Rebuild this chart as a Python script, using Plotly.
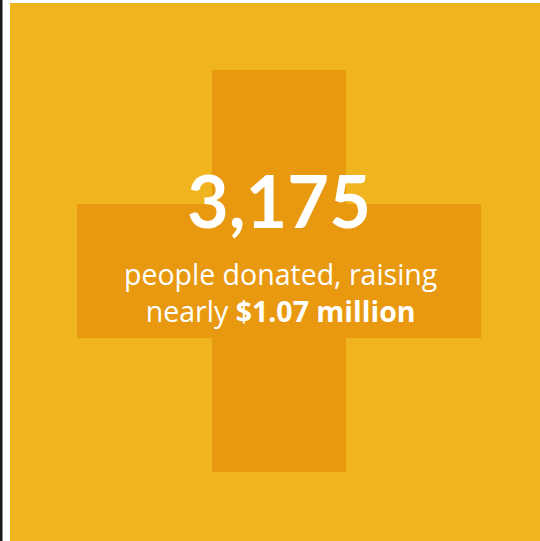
import plotly.graph_objects as go

# Content
donors = 3175
amount_millions = 1.07
headline_label = "people donated, raising"
amount_prefix = "nearly"

BG = "#F0B41E"
CROSS = "#E8990F"
W, H = 540, 541

fig = go.Figure()

shapes = [
    # left photo edge strip
    dict(type="rect", xref="x", yref="y", x0=0, x1=2.5, y0=0, y1=H,
         fillcolor="#1a1a1a", line_width=0, layer="below"),
    # yellow panel
    dict(type="rect", xref="x", yref="y", x0=10, x1=W, y0=3, y1=H,
         fillcolor=BG, line_width=0, layer="below"),
    # cross vertical bar
    dict(type="rect", xref="x", yref="y", x0=212, x1=346, y0=70, y1=472,
         fillcolor=CROSS, line_width=0, layer="below"),
    # cross horizontal bar
    dict(type="rect", xref="x", yref="y", x0=77, x1=481, y0=204, y1=338,
         fillcolor=CROSS, line_width=0, layer="below"),
]

annotations = [
    dict(x=279, y=200, xref="x", yref="y", text=f"<b>{donors:,}</b>",
         showarrow=False, font=dict(family="Lato", size=72, color="white"),
         xanchor="center", yanchor="middle"),
    dict(x=280, y=292, xref="x", yref="y",
         text=f"{headline_label}<br>{amount_prefix} <b>${amount_millions:.2f} million</b>",
         showarrow=False, align="center",
         font=dict(family="Open Sans", size=28.5, color="white"),
         xanchor="center", yanchor="middle"),
]

fig.update_layout(
    width=W, height=H,
    margin=dict(l=0, r=0, t=0, b=0),
    paper_bgcolor="white", plot_bgcolor="white",
    xaxis=dict(range=[0, W], visible=False, fixedrange=True),
    yaxis=dict(range=[H, 0], visible=False, fixedrange=True),
    shapes=shapes, annotations=annotations, showlegend=False,
)

fig.write_html(
    "out.html",
    config={"displayModeBar": False},
    post_script="document.body.style.margin='0';document.body.style.overflow='hidden';",
)
